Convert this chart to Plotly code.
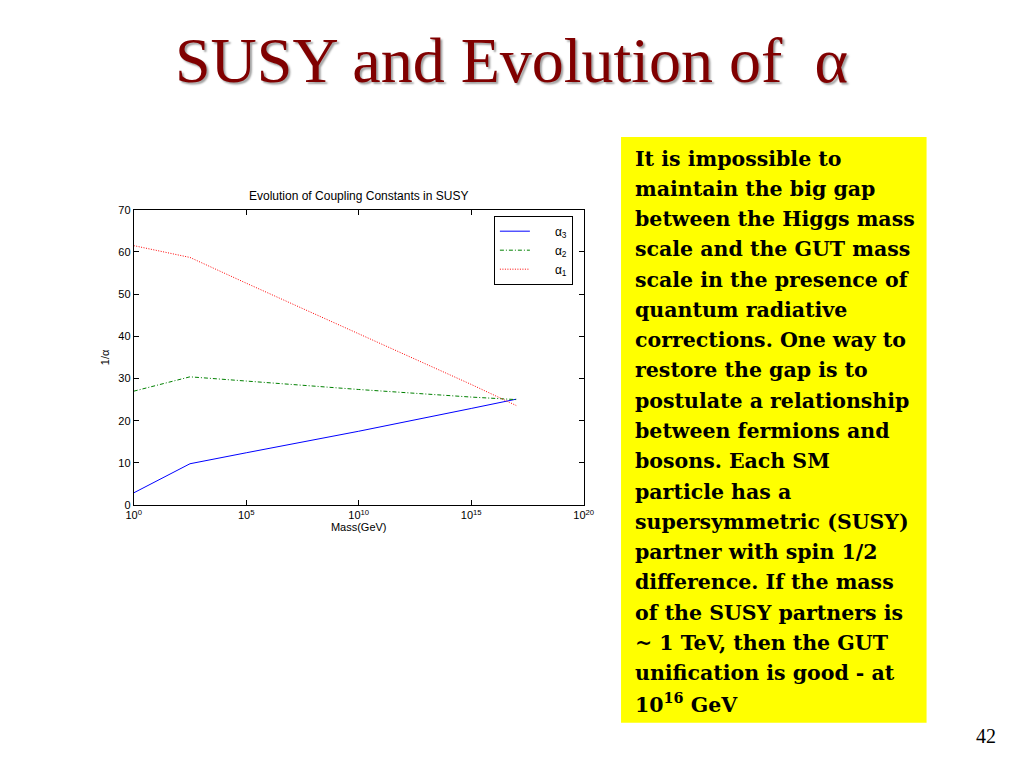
import plotly.graph_objects as go

# ---- data ----
log_mass = [0, 2.5, 5, 10, 15, 17]
mass = [10.0 ** v for v in log_mass]
alpha3_inv = [2.9, 9.8, 12.4, 17.5, 22.9, 25.1]
alpha2_inv = [27.0, 30.4, 29.4, 27.4, 25.6, 25.0]
alpha1_inv = [61.5, 58.7, 52.6, 40.6, 28.6, 23.6]

x_tick_exps = [0, 5, 10, 15, 20]
y_ticks = [0, 10, 20, 30, 40, 50, 60, 70]

slide_title = "SUSY and Evolution of  α"
chart_title = "Evolution of Coupling Constants in SUSY"
box_lines = [
    "It is impossible to",
    "maintain the big gap",
    "between the Higgs mass",
    "scale and the GUT mass",
    "scale in the presence of",
    "quantum radiative",
    "corrections. One way to",
    "restore the gap is to",
    "postulate a relationship",
    "between fermions and",
    "bosons. Each SM",
    "particle has a",
    "supersymmetric (SUSY)",
    "partner with spin 1/2",
    "difference. If the mass",
    "of the SUSY partners is",
    "~ 1 TeV, then the GUT",
    "unification is good - at",
    "10<sup>16</sup> GeV",
]
page_number = "42"

W, H = 1024, 768
px = lambda v: v / W
py = lambda v: 1 - v / H

pad = "&nbsp;" * 6
fig = go.Figure()
fig.add_trace(go.Scatter(x=mass, y=alpha3_inv, mode="lines", name=pad + "α<sub>3</sub>",
                         line=dict(color="#0000ff", width=1, dash="solid")))
fig.add_trace(go.Scatter(x=mass, y=alpha2_inv, mode="lines", name=pad + "α<sub>2</sub>",
                         line=dict(color="#008000", width=1, dash="4px,2px,1px,2px")))
fig.add_trace(go.Scatter(x=mass, y=alpha1_inv, mode="lines", name=pad + "α<sub>1</sub>",
                         line=dict(color="#ff0000", width=1, dash="1px,1.5px")))

axis_font = dict(family="Liberation Sans, Arial", size=11, color="black")

fig.update_layout(
    autosize=True,
    margin=dict(l=0, r=0, t=0, b=0),
    paper_bgcolor="white", plot_bgcolor="white",
    showlegend=True,
    legend=dict(x=px(575), y=py(213), xanchor="right", yanchor="top",
                bordercolor="black", borderwidth=1, bgcolor="white",
                font=dict(family="Liberation Sans, Arial", size=12, color="black"),
                tracegroupgap=0, itemwidth=30),
    xaxis=dict(type="log", range=[0, 20], domain=[px(128), px(586)],
               tickvals=[10.0 ** e for e in x_tick_exps],
               ticktext=["10<sup>%d</sup>" % e for e in x_tick_exps],
               ticks="inside", ticklen=5, tickcolor="black",
               showline=True, linecolor="black", linewidth=1, mirror="ticks",
               showgrid=False, zeroline=False, tickfont=axis_font,
               title=dict(text="Mass(GeV)", font=axis_font, standoff=2)),
    yaxis=dict(range=[0, 70], domain=[py(507), py(207)],
               tickvals=y_ticks, ticks="inside", ticklen=5, tickcolor="black",
               showline=True, linecolor="black", linewidth=1, mirror="ticks",
               showgrid=False, zeroline=False, tickfont=axis_font,
               title=dict(text="1/α", font=axis_font, standoff=6)),
)

annotations = [
    dict(text=chart_title, x=px(357), y=py(193), xref="paper", yref="paper",
         showarrow=False, font=dict(family="Liberation Sans, Arial", size=12, color="black"),
         xanchor="center", yanchor="middle"),
    dict(text=slide_title, x=0.5, y=py(55), xref="paper", yref="paper",
         showarrow=False, xanchor="center", yanchor="middle",
         font=dict(family="Liberation Serif, Times New Roman", size=64, color="#800000",
                   shadow="2px 2px 2px #a0a0a0")),
    dict(text=page_number, x=px(995), y=py(742), xref="paper", yref="paper",
         showarrow=False, xanchor="center", yanchor="middle",
         font=dict(family="Liberation Serif, Times New Roman", size=20, color="black")),
]

line_top = 155
line_gap = 30.75
for i, ln in enumerate(box_lines):
    annotations.append(dict(text="<b>%s</b>" % ln, x=px(636), y=py(line_top + i * line_gap),
                            xref="paper", yref="paper", showarrow=False,
                            xanchor="left", yanchor="middle", align="left",
                            font=dict(family="DejaVu Serif", size=20.5, color="black")))

fig.update_layout(annotations=annotations)
fig.add_shape(type="rect", xref="paper", yref="paper",
              x0=px(624), x1=px(935), y0=py(728), y1=py(133),
              fillcolor="#ffff00", line=dict(width=0), layer="below")

fig.write_html("out.html",
               default_width="100vw", default_height="100vh",
               config={"responsive": True, "displayModeBar": False},
               post_script="document.body.style.margin='0';document.body.style.overflow='hidden';")
